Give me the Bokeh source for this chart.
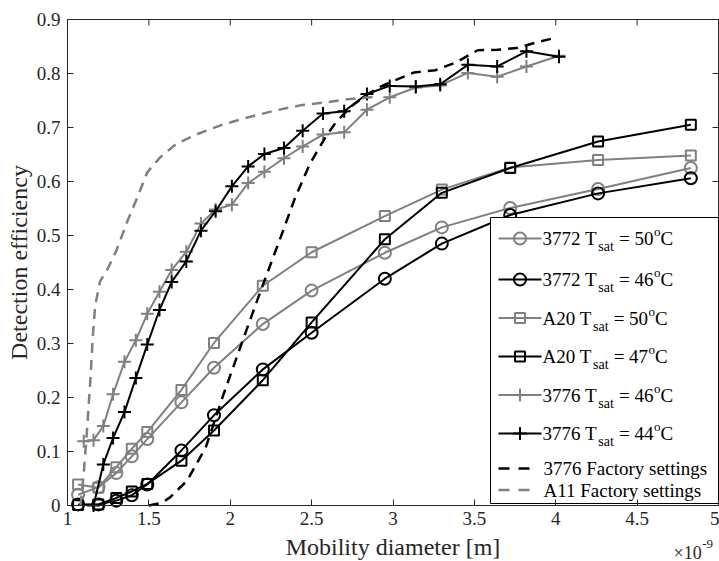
import math
from bokeh.plotting import figure
from bokeh.models import Range1d, FixedTicker, CustomJSTickFormatter, Label
from bokeh.embed import file_html
from bokeh.resources import INLINE

# ---------------- data (mobility diameter in units of 1e-9 m) ----------------
dp_3772_a20 = [1.065, 1.19, 1.30, 1.395, 1.49, 1.70, 1.90, 2.20, 2.50, 2.95, 3.30, 3.72, 4.26, 4.83]
eff_3772_t50 = [0.020, 0.034, 0.060, 0.091, 0.123, 0.191, 0.255, 0.336, 0.398, 0.468, 0.515, 0.551, 0.586, 0.625]
eff_3772_t46 = [0.002, 0.002, 0.009, 0.019, 0.039, 0.102, 0.167, 0.252, 0.320, 0.420, 0.485, 0.538, 0.578, 0.606]
eff_a20_t50 = [0.039, 0.033, 0.071, 0.105, 0.136, 0.214, 0.301, 0.407, 0.469, 0.536, 0.585, 0.626, 0.640, 0.648]
eff_a20_t47 = [0.001, 0.002, 0.014, 0.026, 0.040, 0.083, 0.139, 0.232, 0.339, 0.493, 0.579, 0.625, 0.674, 0.705]

dp_3776_t46 = [1.10, 1.16, 1.22, 1.28, 1.35, 1.42, 1.49, 1.565, 1.64, 1.73, 1.82, 1.91, 2.01, 2.11,
               2.21, 2.33, 2.445, 2.57, 2.70, 2.84, 2.98, 3.14, 3.29, 3.46, 3.64, 3.82, 4.02]
eff_3776_t46 = [0.119, 0.121, 0.147, 0.206, 0.266, 0.306, 0.355, 0.396, 0.436, 0.470, 0.522, 0.548, 0.557, 0.597,
                0.618, 0.643, 0.665, 0.687, 0.691, 0.733, 0.756, 0.774, 0.778, 0.801, 0.794, 0.813, 0.833]
dp_3776_t44 = [1.16, 1.22, 1.28, 1.35, 1.42, 1.49, 1.565, 1.64, 1.73, 1.82, 1.91, 2.01, 2.11,
               2.21, 2.33, 2.445, 2.57, 2.70, 2.84, 2.98, 3.14, 3.29, 3.46, 3.64, 3.82, 4.02]
eff_3776_t44 = [0.0, 0.076, 0.125, 0.173, 0.236, 0.298, 0.362, 0.414, 0.452, 0.509, 0.545, 0.591, 0.628,
                0.651, 0.662, 0.694, 0.726, 0.730, 0.762, 0.777, 0.776, 0.780, 0.816, 0.813, 0.841, 0.831]

dp_3776_factory = [1.50, 1.58, 1.63, 1.735, 1.85, 1.96, 2.07, 2.19, 2.31, 2.40, 2.49, 2.585, 2.65, 2.74,
                   2.83, 2.92, 2.985, 3.13, 3.26, 3.39, 3.52, 3.64, 3.76, 3.886, 4.01]
eff_3776_factory = [0.0, 0.005, 0.015, 0.046, 0.108, 0.207, 0.300, 0.400, 0.497, 0.571, 0.633, 0.682, 0.710, 0.738,
                    0.759, 0.775, 0.784, 0.802, 0.806, 0.821, 0.843, 0.844, 0.847, 0.858, 0.867]
dp_a11_factory = [1.08, 1.10, 1.12, 1.14, 1.155, 1.17, 1.20, 1.25, 1.30, 1.37, 1.43, 1.49, 1.57, 1.67, 1.80,
                  1.94, 2.10, 2.27, 2.43, 2.60, 2.74, 2.90]
eff_a11_factory = [0.0, 0.06, 0.14, 0.23, 0.31, 0.37, 0.415, 0.44, 0.472, 0.528, 0.571, 0.617, 0.645, 0.670, 0.688,
                   0.704, 0.718, 0.731, 0.741, 0.747, 0.753, 0.757]

x_ticks = [1, 1.5, 2, 2.5, 3, 3.5, 4, 4.5, 5]
y_ticks = [0, 0.1, 0.2, 0.3, 0.4, 0.5, 0.6, 0.7, 0.8, 0.9]

x_label = "Mobility diameter [m]"
x_exponent = ("\u00d710", "-9")
y_label = "Detection efficiency"
legend_labels = [("3772 T", "sat", "= 50", "o", "C"),
                 ("3772 T", "sat", "= 46", "o", "C"),
                 ("A20 T", "sat", "= 50", "o", "C"),
                 ("A20 T", "sat", "= 47", "o", "C"),
                 ("3776 T", "sat", "= 46", "o", "C"),
                 ("3776 T", "sat", "= 44", "o", "C")]
legend_dash_labels = ["3776 Factory settings", "A11 Factory settings"]

# ---------------- layout ----------------
W, H = 719, 561
FL, FR, FT, FB = 67, 718, 19, 505        # where the axes box sits on the page
XMIN, XMAX, YMIN, YMAX = 1, 5, 0, 0.9
FONT = "Liberation Serif"
AX = "#262626"
GRAY = "#808080"
BLACK = "#000000"


def fx(px):
    return XMIN + (px - FL) / (FR - FL) * (XMAX - XMIN)


def fy(py):
    return YMIN + (FB - py) / (FB - FT) * (YMAX - YMIN)


# the plotting frame spans the whole page; the axes are pinned at x=1 and y=0
p = figure(width=W, height=H, x_range=Range1d(fx(0), fx(W)), y_range=Range1d(fy(H), fy(0)),
           output_backend="svg", toolbar_location=None, title=None, min_border=0)
p.background_fill_color = "white"
p.border_fill_color = "white"
p.outline_line_color = None
p.xgrid.visible = False
p.ygrid.visible = False

fmt = CustomJSTickFormatter(code="return String(Math.round(tick*10)/10);")
for ax, ticks in ((p.xaxis[0], x_ticks), (p.yaxis[0], y_ticks)):
    ax.ticker = FixedTicker(ticks=ticks)
    ax.formatter = fmt
    ax.major_tick_in = 6
    ax.major_tick_out = 0
    ax.minor_tick_line_color = None
    ax.axis_line_color = AX
    ax.major_tick_line_color = AX
    ax.major_label_text_font = FONT
    ax.major_label_text_font_size = "19px"
    ax.major_label_text_color = AX
p.xaxis.fixed_location = YMIN
p.xaxis.bounds = (XMIN, XMAX)
p.yaxis.fixed_location = XMIN
p.yaxis.bounds = (YMIN, YMAX)
p.xaxis.major_label_standoff = 6
p.yaxis.major_label_standoff = 7

# top and right edges of the box with inward ticks
p.segment(x0=[XMIN, XMAX], y0=[YMAX, YMIN], x1=[XMAX, XMAX], y1=[YMAX, YMAX], line_color=AX, line_width=1)
p.ray(x=x_ticks, y=[YMAX] * len(x_ticks), length=6, length_units="screen", angle=-math.pi / 2,
      line_color=AX, line_width=1)
p.ray(x=[XMAX] * len(y_ticks), y=y_ticks, length=6, length_units="screen", angle=math.pi,
      line_color=AX, line_width=1)


def series(x, y, color, marker, size):
    p.line(x, y, line_color=color, line_width=2)
    p.scatter(x, y, marker=marker, size=size, line_color=color, fill_color=None, line_width=2)


series(dp_3772_a20, eff_3772_t50, GRAY, "circle", 12)
series(dp_3772_a20, eff_3772_t46, BLACK, "circle", 12)
series(dp_3772_a20, eff_a20_t50, GRAY, "square", 10)
series(dp_3772_a20, eff_a20_t47, BLACK, "square", 10)
series(dp_3776_t46, eff_3776_t46, GRAY, "cross", 13)
series(dp_3776_t44, eff_3776_t44, BLACK, "cross", 13)
p.line(dp_3776_factory, eff_3776_factory, line_color=BLACK, line_width=2.5, line_dash="10 7")
p.line(dp_a11_factory, eff_a11_factory, line_color=GRAY, line_width=2.5, line_dash="10 7")

# ---------------- legend (drawn by hand for sub/superscripts) ----------------
p.quad(left=fx(490), right=fx(718), top=fy(217), bottom=fy(503), fill_color="white",
       line_color=BLACK, line_width=1)

rows = [238, 279, 317.5, 356, 394.5, 433]
styles = [(GRAY, "circle", 12), (BLACK, "circle", 12), (GRAY, "square", 10), (BLACK, "square", 10),
          (GRAY, "cross", 13), (BLACK, "cross", 13)]
CW = {'0': .5, '1': .5, '2': .5, '3': .5, '4': .5, '5': .5, '6': .5, '7': .5, '8': .5, '9': .5,
      ' ': .25, 'T': .611, 'A': .722, '=': .564, 'C': .667, 's': .389, 'a': .444, 't': .278, 'o': .5,
      '\u00d7': .564}


def tw(s, size):
    return sum(CW.get(c, .5) for c in s) * size


def text(px, py, txt, size, color=BLACK, align="left", baseline="alphabetic", angle=0.0):
    # py is the vertical centre of the capitals on the page
    p.add_layout(Label(x=fx(px), y=fy(py), text=txt, text_font=FONT, text_font_size=f"{size}px",
                       text_color=color, text_align=align, text_baseline=baseline, angle=angle))


MAIN, SUB, SUP = 19, 14, 13
for ry, (col, mk, sz), parts in zip(rows, styles, legend_labels):
    p.line([fx(498), fx(541)], [fy(ry), fy(ry)], line_color=col, line_width=2)
    p.scatter([fx(519.5)], [fy(ry)], marker=mk, size=sz, line_color=col, fill_color=None, line_width=2)
    specs = [(parts[0], MAIN, 0, 0), (parts[1], SUB, 8, 1.5), (parts[2], MAIN, 0, 5),
             (parts[3], SUP, -7, 0.5), (parts[4], MAIN, 0, 0)]
    x = 542
    for txt, fs, dy, gap in specs:
        x += gap
        text(x, ry + dy, txt, fs)
        x += tw(txt, fs)

for ry, col, txt in zip([468, 489.5], [BLACK, GRAY], legend_dash_labels):
    p.line([fx(498), fx(532)], [fy(ry), fy(ry)], line_color=col, line_width=2.5, line_dash="11 9")
    text(543, ry, txt, 19)

# ---------------- axis titles and the x10^-9 multiplier ----------------
text((FL + FR) / 2, 546, x_label, 24, color=AX, align="center")
text(18.5, (FT + FB) / 2, y_label, 24, color=AX, align="center", baseline="middle", angle=math.pi / 2)
text(673, 552, x_exponent[0], 18, color=AX)
text(673 + tw(x_exponent[0], 18) + 0.5, 543.5, x_exponent[1], 13, color=AX)

open("out.html", "w").write(file_html(p, INLINE))
